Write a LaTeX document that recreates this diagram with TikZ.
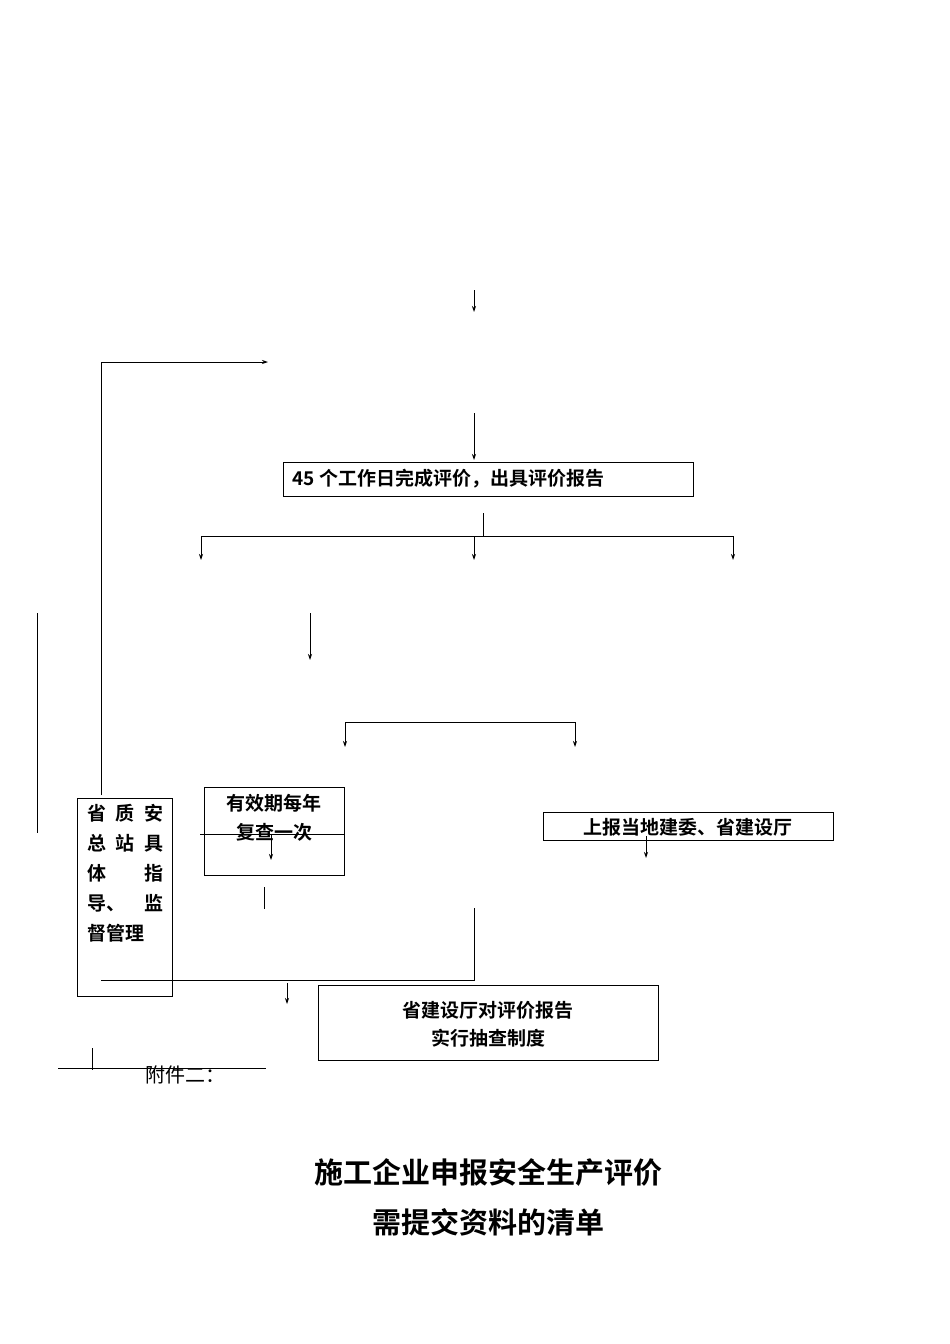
\documentclass[tikz,border=0pt]{standalone}
\usepackage{fontspec}
\usetikzlibrary{arrows.meta}
\setmainfont{Liberation Sans}
\newfontfamily\cjk{Noto Sans CJK SC}
\newfontfamily\cjkb{Noto Sans CJK SC Bold}
\begin{document}
\begin{tikzpicture}[x=1pt,y=-1pt,line width=0.8pt,
  arr/.style={-{Stealth[length=6pt,width=4pt]}},
  bx/.style={draw,line width=0.6pt},
  bt/.style={font=\cjkb\fontsize{19}{22}\selectfont,inner sep=0pt},
  tt/.style={font=\cjkb\fontsize{29}{34}\selectfont,inner sep=0pt}]
\useasboundingbox (0,0) rectangle (950,1344);
\coordinate (a1) at (474,290); \coordinate (a2) at (474,312);
\draw[arr] (a1) -- (a2);
\coordinate (l1) at (101,795); \coordinate (l2) at (101,362); \coordinate (l3) at (268,362);
\draw[arr] (l1) -- (l2) -- (l3);
\coordinate (b1) at (474,413); \coordinate (b2) at (474,460);
\draw[arr] (b1) -- (b2);
\draw[bx] (283,462) rectangle (693,496);
\node[bt,anchor=west] (r1) at (292,479) {45 个工作日完成评价，出具评价报告};
\coordinate (c1) at (483,513); \coordinate (c2) at (483,536);
\draw (c1) -- (c2);
\coordinate (h1) at (201,536); \coordinate (h2) at (733,536);
\draw (h1) -- (h2);
\foreach \x in {201,474,733} \draw[arr] (\x,536) -- (\x,560);
\draw[arr] (310,613) -- (310,660);
\draw (345,722) -- (575,722);
\foreach \x in {345,575} \draw[arr] (\x,722) -- (\x,747);
\draw (37,613) -- (37,833);
\draw[bx] (77,798) rectangle (172,996);
\foreach \t/\y in {省\hfill 质\hfill 安/813,总\hfill 站\hfill 具/843,体\hfill 指/873,导、\hfill 监/903,督管理\hfill\null/933}
  \node[bt,anchor=west,text width=76pt] at (87,\y) {\t};
\draw[bx] (204,787) rectangle (344,875);
\node[bt] (v1) at (274,803) {有效期每年};
\node[bt] (v2) at (274,832) {复查一次};
\draw (200,834) -- (344,834);
\draw (344,800) -- (344,834);
\draw[arr] (271,834) -- (271,860);
\draw (264,887) -- (264,909);
\draw[bx] (543,812) rectangle (833,840);
\node[bt] (s1) at (688,827) {上报当地建委、省建设厅};
\draw[arr] (646,836) -- (646,858);
\draw (474,908) -- (474,980) -- (101,980);
\draw[arr] (287,983) -- (287,1004);
\draw[bx] (318,985) rectangle (658,1060);
\node[bt] (p1) at (488,1010) {省建设厅对评价报告};
\node[bt] (p2) at (488,1038) {实行抽查制度};
\draw (58,1068) -- (266,1068);
\draw (92,1048) -- (92,1070);
\node[font=\cjk\fontsize{20}{24}\selectfont,anchor=west,inner sep=0pt] (f) at (145,1075) {附件二：};
\node[tt] (t1) at (488,1173) {施工企业申报安全生产评价};
\node[tt] (t2) at (488,1222) {需提交资料的清单};
\end{tikzpicture}
\end{document}
